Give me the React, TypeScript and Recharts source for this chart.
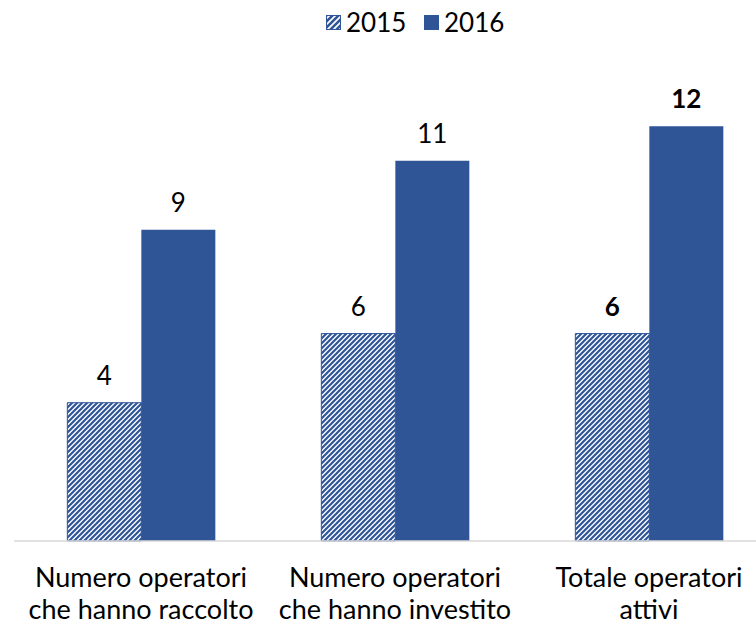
import React from 'react';
import { BarChart, Bar, XAxis, YAxis, LabelList } from 'recharts';

const categories = ['Numero operatori|che hanno raccolto', 'Numero operatori|che hanno investito', 'Totale operatori|attivi'];
const series = ['2015', '2016'];
const values2015 = [4, 6, 6];
const values2016 = [9, 11, 12];
const boldIndex = [false, false, true];

const BLUE = '#2F5597';
const FONT = 'Lato, "Open Sans", sans-serif';

const data = categories.map((c, i) => ({ name: c, y2015: values2015[i], y2016: values2016[i] }));

const CategoryTick = (props: any) => {
  const { x, y, payload } = props;
  const lines = String(payload.value).split('|');
  return (
    <g>
      {lines.map((l, i) => (
        <text key={i} x={x} y={y + 38 + i * 32} textAnchor="middle" fill="#000" fontSize={27} fontFamily={FONT}>
          {l}
        </text>
      ))}
    </g>
  );
};

const ValueLabel = (props: any) => {
  const { x, y, width, value, index } = props;
  return (
    <text
      x={x + width / 2}
      y={y - 18}
      textAnchor="middle"
      fill="#000"
      fontSize={26}
      fontFamily={FONT}
      fontWeight={boldIndex[index] ? 'bold' : 'normal'}
    >
      {value}
    </text>
  );
};

// legend drawn on top, outside the chart so it does not shrink the plot
const LegendSvg = () => (
  <svg width={756} height={50} style={{ position: 'absolute', left: 0, top: 0 }}>
    <defs>
      <pattern id="hatchLegend" patternUnits="userSpaceOnUse" width={6} height={6}>
        <rect width={6} height={6} fill="#fff" />
        <path d="M-1,1 l2,-2 M0,6 l6,-6 M5,7 l2,-2" stroke={BLUE} strokeWidth={2.6} />
      </pattern>
    </defs>
    <rect x={326.5} y={15.5} width={14} height={14} fill="url(#hatchLegend)" stroke={BLUE} />
    <text x={346} y={32} fontSize={26} fontFamily={FONT} fill="#000">{series[0]}</text>
    <rect x={424} y={15} width={15} height={15} fill={BLUE} />
    <text x={444} y={32} fontSize={26} fontFamily={FONT} fill="#000">{series[1]}</text>
  </svg>
);

export default function App() {
  return (
    <div style={{ position: 'fixed', left: 0, top: 0, width: 756, height: 626, overflow: 'hidden', background: '#fff' }}>
      <BarChart
        width={776}
        height={626}
        data={data}
        margin={{ top: 57, right: 0, left: 14, bottom: 55 }}
        barCategoryGap="21%"
        barGap={0}
      >
        <defs>
          <pattern id="hatch" patternUnits="userSpaceOnUse" width={5} height={5}>
            <rect width={5} height={5} fill="#fff" />
            <path d="M-1,1 l2,-2 M0,5 l5,-5 M4,6 l2,-2" stroke={BLUE} strokeWidth={2.2} />
          </pattern>
        </defs>
        <XAxis
          dataKey="name"
          height={30}
          axisLine={{ stroke: '#D9D9D9', strokeWidth: 1.5 }}
          tickLine={false}
          tick={<CategoryTick />}
          interval={0}
        />
        <YAxis hide domain={[0, 14]} />
        <Bar dataKey="y2015" fill="url(#hatch)" stroke={BLUE} strokeWidth={1} isAnimationActive={false}>
          <LabelList dataKey="y2015" content={<ValueLabel />} />
        </Bar>
        <Bar dataKey="y2016" fill={BLUE} isAnimationActive={false}>
          <LabelList dataKey="y2016" content={<ValueLabel />} />
        </Bar>
      </BarChart>
      <LegendSvg />
    </div>
  );
}
